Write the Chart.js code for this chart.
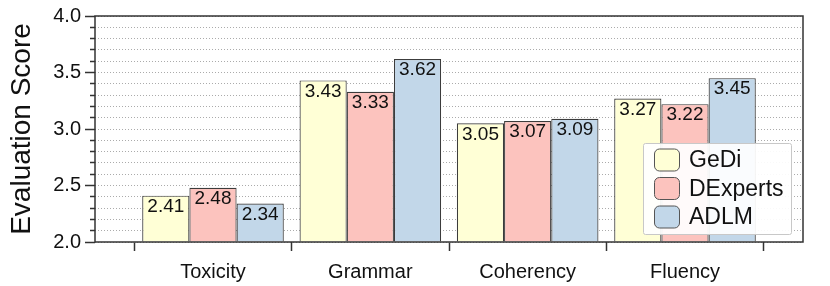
<!DOCTYPE html>
<html>
<head>
<meta charset="utf-8">
<script src="https://cdn.jsdelivr.net/npm/chart.js@4"></script>
<style>
  html, body { margin: 0; padding: 0; background: #fff; }
  #wrap { width: 830px; height: 286px; }
</style>
</head>
<body>
<div id="wrap"><canvas id="chart"></canvas></div>
<script>
const categories = ['Toxicity', 'Grammar', 'Coherency', 'Fluency'];
const seriesNames = ['GeDi', 'DExperts', 'ADLM'];
const gediScores = [2.41, 3.43, 3.05, 3.27];
const dexpertsScores = [2.48, 3.33, 3.07, 3.22];
const adlmScores = [2.34, 3.62, 3.09, 3.45];
const yTickLabels = ['2.0', '2.5', '3.0', '3.5', '4.0'];
const yMin = 2.0, yMax = 4.0, yMinorStep = 0.1;

const seriesValues = [gediScores, dexpertsScores, adlmScores];
const colors = ['#ffffd6', '#fcc3be', '#c2d7e9'];
const fontFamily = '"Liberation Sans", Arial, Helvetica, sans-serif';
Chart.defaults.font.family = fontFamily;
Chart.defaults.color = '#111';

function majorLabel(v) {
    const hit = yTickLabels.find(l => Math.abs(parseFloat(l) - v) < 1e-6);
    return hit || '';
}

// box round the plot
const framePlugin = {
    id: 'frame',
    afterDatasetsDraw(chart) {
        const {ctx, chartArea: a} = chart;
        ctx.save();
        ctx.strokeStyle = '#333';
        ctx.lineWidth = 1.5;
        ctx.strokeRect(a.left, a.top, a.right - a.left, a.bottom - a.top);
        ctx.restore();
    }
};

// numbers inside the top of each bar
const valueLabels = {
    id: 'valueLabels',
    afterDatasetsDraw(chart) {
        const ctx = chart.ctx;
        ctx.save();
        ctx.font = '19px ' + fontFamily;
        ctx.fillStyle = '#111';
        ctx.textAlign = 'center';
        ctx.textBaseline = 'middle';
        chart.data.datasets.forEach((ds, i) => {
            chart.getDatasetMeta(i).data.forEach((bar, j) => {
                ctx.fillText(ds.data[j].y.toFixed(2), bar.x, bar.y + 11);
            });
        });
        ctx.restore();
    }
};

// legend box in the lower right corner of the plot
const boxLegend = {
    id: 'boxLegend',
    afterDraw(chart) {
        const {ctx, chartArea: a} = chart;
        const w = 148, h = 91;
        const left = Math.round(a.right - 12 - w), top = Math.round(a.bottom - 8 - h);
        ctx.save();
        ctx.fillStyle = 'rgba(255,255,255,0.92)';
        ctx.strokeStyle = '#c8c8c8';
        ctx.lineWidth = 1;
        ctx.beginPath();
        ctx.roundRect(left + 0.5, top + 0.5, w, h, 2);
        ctx.fill();
        ctx.stroke();
        ctx.font = '23px ' + fontFamily;
        ctx.textBaseline = 'middle';
        chart.data.datasets.forEach((ds, i) => {
            const cy = top + 17 + i * 28.5;
            ctx.beginPath();
            ctx.roundRect(left + 11.5, cy - 11, 25, 22, 5);
            ctx.fillStyle = ds.backgroundColor;
            ctx.fill();
            ctx.strokeStyle = '#555';
            ctx.stroke();
            ctx.fillStyle = '#111';
            ctx.fillText(ds.label, left + 46, cy + 1);
        });
        ctx.restore();
    }
};

new Chart(document.getElementById('chart'), {
    type: 'bar',
    data: {
        datasets: seriesNames.map((name, s) => ({
            label: name,
            data: seriesValues[s].map((v, i) => ({x: i, y: v})),
            backgroundColor: colors[s],
            borderColor: '#3c3c3c',
            borderWidth: 1.2,
            borderSkipped: 'start',
            base: yMin,
            categoryPercentage: 0.9,
            barPercentage: 1.0
        }))
    },
    options: {
        responsive: true,
        maintainAspectRatio: false,
        animation: false,
        layout: { padding: { top: 16, right: 27, left: 0, bottom: 0 } },
        plugins: { legend: { display: false }, tooltip: { enabled: false } },
        scales: {
            x: {
                type: 'linear',
                offset: false,
                min: -0.75, max: categories.length - 0.25,
                weight: 1,
                afterBuildTicks: scale => { scale.ticks = categories.map((c, i) => ({value: i})); },
                afterFit: scale => { scale.height = 44; },
                grid: { display: false, offset: false },
                border: { display: false },
                ticks: { autoSkip: false, maxRotation: 0, padding: 10, font: { size: 20 }, color: '#111',
                    callback: v => categories[v] }
            },
            // only carries the tick marks between the groups
            xb: {
                type: 'linear',
                position: 'bottom',
                display: true,
                offset: false,
                min: -0.75, max: categories.length - 0.25,
                weight: 0,
                afterBuildTicks: scale => { scale.ticks = categories.concat(['']).map((c, i) => ({value: i - 0.5})); },
                afterFit: scale => { scale.height = 0; },
                grid: { offset: false, drawOnChartArea: false, drawTicks: true, tickLength: 9, tickColor: '#333', tickWidth: 1.5 },
                border: { display: false },
                ticks: { display: false, autoSkip: false }
            },
            y: {
                min: yMin, max: yMax,
                afterBuildTicks: scale => {
                    const n = Math.round((yMax - yMin) / yMinorStep);
                    const t = [];
                    for (let i = 0; i <= n; i++) t.push({value: +(yMin + i * yMinorStep).toFixed(1)});
                    scale.ticks = t;
                },
                afterFit: scale => { scale.width = 95; },
                ticks: { autoSkip: false, padding: 4, font: { size: 20 }, color: '#111',
                    callback: v => majorLabel(v) },
                grid: {
                    color: '#ababab', lineWidth: 1,
                    tickLength: 10, tickColor: '#333', tickWidth: 1.5,
                    tickBorderDash: ctx => majorLabel(ctx.tick.value) ? [] : [0, 5, 5, 100]
                },
                border: { display: false, dash: [1, 2] },
                title: { display: true, text: 'Evaluation Score', font: { size: 28 }, color: '#111',
                    padding: { top: 5, bottom: 0 } }
            }
        }
    },
    plugins: [framePlugin, valueLabels, boxLegend]
});
</script>
</body>
</html>
